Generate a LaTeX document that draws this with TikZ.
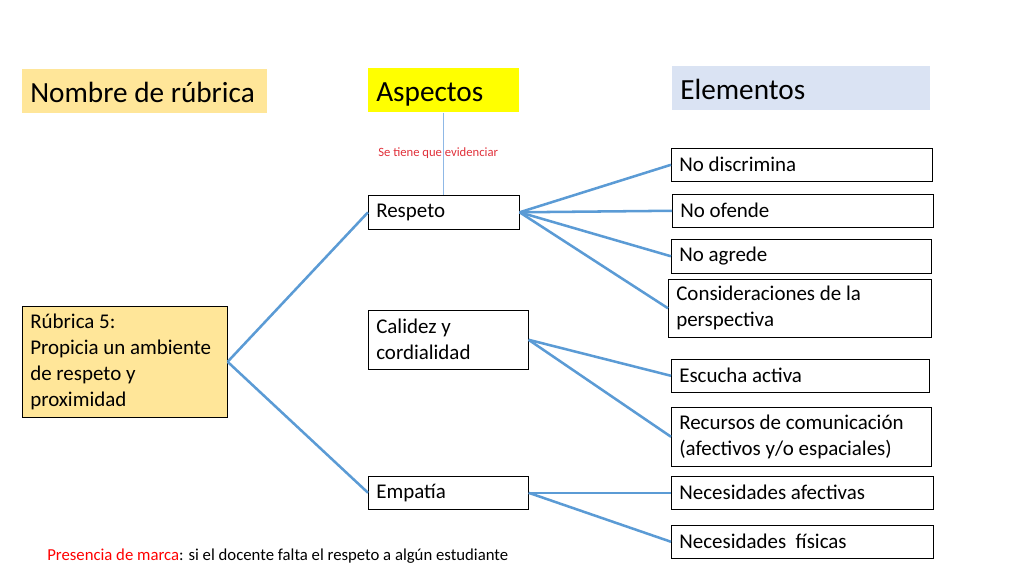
\documentclass[tikz,border=0pt]{standalone}
\usepackage{fontspec}
\setmainfont{Carlito}
\usepackage{xcolor}
\usepackage{tikz}
\usetikzlibrary{positioning}
\definecolor{rubrica}{HTML}{FFE699}
\definecolor{aspecto}{HTML}{FFFF00}
\definecolor{elemento}{HTML}{DAE3F3}
\definecolor{linea}{HTML}{5B9BD5}
\definecolor{guia}{HTML}{8FB8E6}
\definecolor{marca}{HTML}{FF0000}
\definecolor{nota}{HTML}{E0303A}
\begin{document}
\begin{tikzpicture}[x=0.025cm, y=-0.025cm,
  titulo/.style={rectangle, anchor=north west, align=flush left, inner xsep=0.2cm, inner ysep=0pt, text height=18pt, text depth=2.5pt, font=\fontsize{20.8}{25}\selectfont},
  caja/.style={rectangle, draw=black, fill=white, anchor=north west, align=flush left, inner xsep=0.2cm, inner ysep=0pt, font=\fontsize{14.9}{18.5}\selectfont},
  rama/.style={draw=linea, line width=1.8pt}]
\useasboundingbox (0,0) rectangle (1024,576);
% encabezados
\node [titulo, fill=rubrica, text width=5.725cm, minimum height=1.1cm] (nombre) at (22,69) {Nombre de rúbrica};
\node [titulo, fill=aspecto, text width=3.375cm, minimum height=1.1cm] (aspectos) at (368,68) {Aspectos};
\node [titulo, fill=elemento, text width=6.05cm, minimum height=1.1cm] (elementos) at (672,66) {Elementos};
% rubrica
\node [caja, fill=rubrica, text width=4.725cm, minimum height=2.775cm] (R) at (22,306) {Rúbrica 5:\\Propicia un ambiente\\de respeto y\\proximidad};
% aspectos
\node [caja, text width=3.375cm, minimum height=0.85cm] (A1) at (368,195) {Respeto};
\node [caja, text width=3.6cm, minimum height=1.475cm] (A2) at (368,310) {Calidez y\\cordialidad};
\node [caja, text width=3.6cm, minimum height=0.825cm] (A3) at (368,476) {Empatía};
% elementos
\node [caja, text width=6.125cm, minimum height=0.825cm] (E1) at (671,148) {No discrimina};
\node [caja, text width=6.125cm, minimum height=0.825cm] (E2) at (672,194) {No ofende};
\node [caja, text width=6.1cm, minimum height=0.85cm] (E3) at (671,239) {No agrede};
\node [caja, text width=6.175cm, minimum height=1.45cm] (E4) at (668,279) {Consideraciones de la\\perspectiva};
\node [caja, text width=6.05cm, minimum height=0.825cm] (E5) at (671,359) {Escucha activa};
\node [caja, text width=6.1cm, minimum height=1.475cm] (E6) at (671,407) {Recursos de comunicación\\(afectivos y/o espaciales)};
\node [caja, text width=6.15cm, minimum height=0.825cm] (E7) at (671,476) {Necesidades afectivas};
\node [caja, text width=6.15cm, minimum height=0.825cm] (E8) at (671,525) {Necesidades\ \ físicas};
% notas
\node [anchor=west, inner sep=0pt, text=nota, font=\fontsize{9}{11}\selectfont] (evid) at (378,153) {Se tiene que evidenciar};
\node [anchor=west, inner sep=0pt, font=\fontsize{11.9}{14}\selectfont] (pie) at (47,556) {\textcolor{marca}{Presencia de marca}: si el docente falta el respeto a algún estudiante};
% conectores
\draw [draw=guia, line width=0.8pt] (aspectos) to (A1);
\draw [rama] (R.east) to (A1.west);
\draw [rama] (R.east) to (A3.west);
\draw [rama] (A1.east) to (E1.west);
\draw [rama] (A1.east) to (E2.west);
\draw [rama] (A1.east) to (E3.west);
\draw [rama] (A1.east) to (E4.west);
\draw [rama] (A2.east) to (E5.west);
\draw [rama] (A2.east) to (E6.west);
\draw [rama] (A3.east) to (E7.west);
\draw [rama] (A3.east) to (E8.west);
\end{tikzpicture}
\end{document}
